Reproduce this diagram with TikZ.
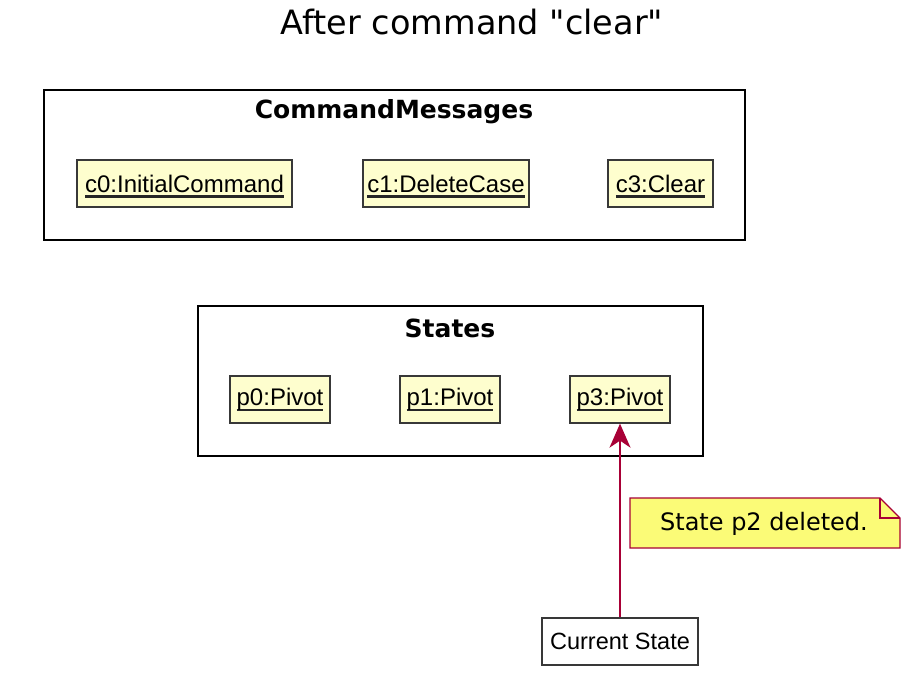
\documentclass[tikz,border=0pt]{standalone}
\usepackage{fontspec}
\setmainfont{DejaVu Sans}
\newfontfamily\titlefont[Ligatures=TeXOff]{DejaVu Sans}
\newfontfamily\objfont{Liberation Sans}
\usetikzlibrary{arrows.meta,calc}
\definecolor{objfill}{HTML}{FEFECE}
\definecolor{notefill}{HTML}{FBFB77}
\definecolor{umlred}{HTML}{A80036}
\definecolor{objborder}{HTML}{383838}
\tikzset{
  pkg/.style={draw=black, line width=2.8pt, fill=white},
  pkglabel/.style={font=\fontsize{25}{28}\selectfont\bfseries, anchor=center},
  obj/.style={draw=objborder, line width=1.3pt, fill=objfill, minimum height=47pt, inner xsep=2pt,
    font=\objfont\fontsize{24}{26}\selectfont},
  plainobj/.style={draw=objborder, line width=1.3pt, fill=white, minimum height=47pt, inner xsep=4pt,
    font=\objfont\fontsize{23.5}{26}\selectfont},
  link/.style={draw=umlred, line width=1.5pt, -{Stealth[length=24pt,width=21pt,inset=7pt]}},
}
\newcommand{\ul}[1]{\setbox0\hbox{#1}\rlap{\smash{\color{black!85}\rule[-5.5pt]{\wd0}{2.2pt}}}\box0}
\begin{document}
\begin{tikzpicture}[x=1pt,y=-1pt]
\useasboundingbox (0,0) rectangle (922,685);
% title
\node[font=\titlefont\fontsize{33.5}{38}\selectfont] (title) at (472,22) {After command "clear"};
% CommandMessages package
\draw[pkg] (44,90) rectangle (745,240);
\node[pkglabel] (cmlabel) at (394,112) {CommandMessages};
\node[obj, minimum width=215pt] (c0) at (184.5,183.5) {\ul{c0:InitialCommand}};
\node[obj, minimum width=166pt] (c1) at (446,183.5) {\ul{c1:DeleteCase}};
\node[obj, minimum width=105pt] (c3) at (660.5,183.5) {\ul{c3:Clear}};
% States package
\draw[pkg] (198,306) rectangle (703,456);
\node[pkglabel] (stlabel) at (450,328) {States};
\node[obj, minimum width=100pt] (p0) at (280,399.5) {\ul{p0:Pivot}};
\node[obj, minimum width=100pt] (p1) at (450,399.5) {\ul{p1:Pivot}};
\node[obj, minimum width=100pt] (p3) at (620,399.5) {\ul{p3:Pivot}};
% current state
\node[plainobj, minimum width=156pt] (cur) at (620,641.5) {Current State};
\draw[link] (cur.north) -- (p3.south);
% note
\draw[draw=umlred, line width=1.3pt, fill=notefill]
  (630,498) -- (880,498) -- (900,518) -- (900,548) -- (630,548) -- cycle;
\draw[draw=umlred, line width=1.3pt] (880,498) -- (880,518) -- (900,518);
\node[font=\fontsize{24}{26}\selectfont] (note) at (764,524) {State p2 deleted.};
\end{tikzpicture}
\end{document}
